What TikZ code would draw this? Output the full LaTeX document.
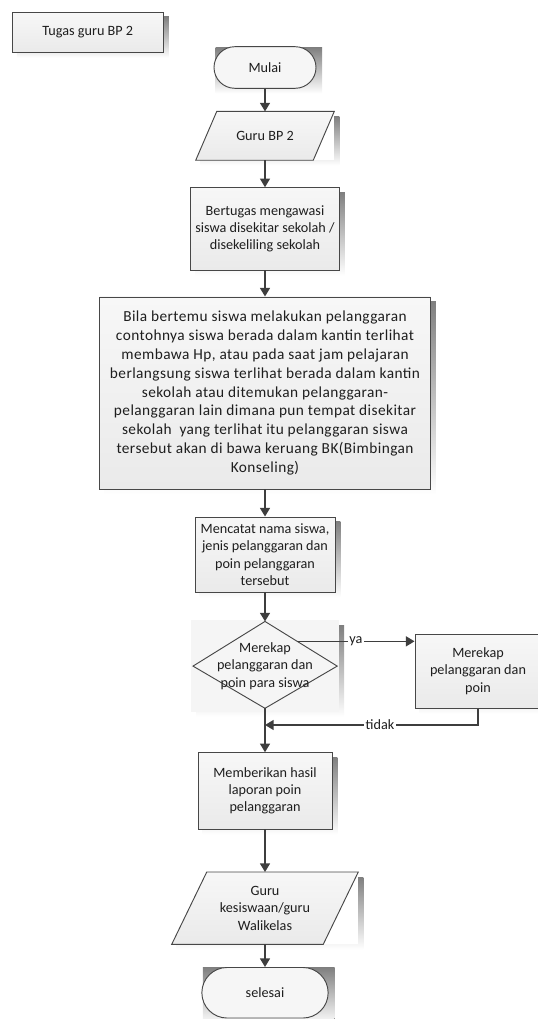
\documentclass[tikz,border=0pt]{standalone}
\usepackage{fontspec}
\setmainfont{Carlito}
\usetikzlibrary{arrows.meta,calc}
\pgfdeclarelayer{shadowlayer}
\pgfdeclarelayer{shapelayer}
\pgfsetlayers{shadowlayer,shapelayer,main}

\definecolor{edge}{HTML}{474747}
\definecolor{wire}{HTML}{3E3E3E}
\definecolor{shade}{HTML}{C9C9C9}
\definecolor{boxtop}{HTML}{F7F7F7}
\definecolor{boxbot}{HTML}{EAEAEA}
\definecolor{termfill}{HTML}{F6F6F6}
\definecolor{decfill}{HTML}{F5F5F5}
\definecolor{ink}{HTML}{1E1E1E}

\begin{document}
\begin{tikzpicture}[x=0.75pt,y=-0.75pt,
  base/.style={font=\fontsize{10.65pt}{13pt}\selectfont, text=ink, align=center, inner sep=0pt},
  procbox/.style={base, rectangle, draw=edge, line width=0.7pt, top color=boxtop, bottom color=boxbot},
  termbox/.style={base, rectangle, draw=edge, line width=0.7pt, fill=termfill},
  holder/.style={base, rectangle},
  outline/.style={draw=edge, line width=0.7pt},
  flow/.style={draw=wire, line width=1.1pt, -{Triangle[width=7.5pt,length=6.5pt]}},
  tag/.style={base, fill=white, inner sep=1pt},
]
\useasboundingbox (0,0) rectangle (537,1019);

% ---- nodes ----
\node[procbox, minimum width=113.25pt, minimum height=30pt] (title) at (87.8,32.3) {Tugas guru BP 2};
\node[termbox, rounded corners=15.6pt, minimum width=76.5pt, minimum height=31.2pt] (start) at (265,67.5) {Mulai};
\node[holder, minimum width=103.5pt, minimum height=36.2pt] (in1) at (265,135.85) {Guru BP 2};
\node[procbox, minimum width=111.75pt, minimum height=61.7pt] (watch) at (265,228.85)
  {Bertugas mengawasi\\siswa disekitar sekolah /\\disekeliling sekolah};
\node[procbox, minimum width=248.25pt, minimum height=144pt,
      font=\fontsize{11.5pt}{14.1pt}\selectfont\addfontfeature{LetterSpace=2.8}] (rule) at (265,393)
  {Bila bertemu siswa melakukan pelanggaran\\
   contohnya siswa berada dalam kantin terlihat\\
   membawa Hp, atau pada saat jam pelajaran\\
   berlangsung siswa terlihat berada dalam kantin\\
   sekolah atau ditemukan pelanggaran-\\
   pelanggaran lain dimana pun tempat disekitar\\
   sekolah\ \ yang terlihat itu pelanggaran siswa\\
   tersebut akan di bawa keruang BK(Bimbingan\\
   Konseling)};
\node[procbox, minimum width=105pt, minimum height=56.25pt] (note) at (265,554.5)
  {Mencatat nama siswa,\\jenis pelanggaran dan\\poin pelanggaran\\tersebut};
\node[holder, minimum width=110.6pt, minimum height=68.1pt] (dec) at (265,666.1)
  {Merekap\\pelanggaran dan\\poin para siswa};
\node[procbox, minimum width=94.5pt, minimum height=55.7pt] (tally) at (478,671.15)
  {Merekap\\pelanggaran dan\\poin};
\node[procbox, minimum width=100.5pt, minimum height=57.2pt] (report) at (265,790.85)
  {Memberikan hasil\\laporan poin\\pelanggaran};
\node[holder, minimum width=139.5pt, minimum height=53.8pt] (out) at (265,908.15)
  {Guru\\kesiswaan/guru\\Walikelas};
\node[termbox, rounded corners=18.9pt, minimum width=94.7pt, minimum height=37.9pt] (stop) at (265,992.75) {selesai};

% diamond corners inside its frame
\coordinate (dtop) at ([yshift=-0.75pt]dec.north);
\coordinate (dbot) at ([yshift=2.6pt]dec.south);
\coordinate (dleft) at ([xshift=1.5pt]dec.west);
\coordinate (dright) at ([xshift=-1.35pt]dec.east);

% ---- shadows ----
\begin{pgfonlayer}{shadowlayer}
  \foreach \n in {title,watch,rule,note,dec,tally,report,in1,out}
    \fill[shade] ([shift={(5,5)}]\n.north west) rectangle ([shift={(5,5)}]\n.south east);
  \fill[shade] ([shift={(2,1.3)}]start.north west) rectangle ([shift={(5.7,4.7)}]start.south east);
  \fill[shade] ([shift={(1.5,0.5)}]stop.north west) rectangle ([shift={(6,6)}]stop.south east);
\end{pgfonlayer}

% ---- input/output and decision outlines ----
\begin{pgfonlayer}{shapelayer}
  \fill[white] (in1.north west) rectangle (in1.south east);
  \path[outline, top color=boxtop, bottom color=boxbot]
    ([xshift=15.75pt]in1.north west) -- (in1.north east)
    -- ([xshift=-15.75pt]in1.south east) -- (in1.south west) -- cycle;
  \fill[white] (out.north west) rectangle (out.south east);
  \path[outline, top color=boxtop, bottom color=boxbot]
    ([xshift=26.25pt]out.north west) -- (out.north east)
    -- ([xshift=-26.25pt]out.south east) -- (out.south west) -- cycle;
  \fill[decfill] (dec.north west) rectangle (dec.south east);
  \draw[outline] (dtop) -- (dright) -- (dbot) -- (dleft) -- cycle;
\end{pgfonlayer}

% ---- connectors ----
\draw[flow] (start.south) -- (in1.north);
\draw[flow] (in1.south) -- (watch.north);
\draw[flow] (watch.south) -- (rule.north);
\draw[flow] (rule.south) -- (note.north);
\draw[flow] (note.south) -- (dtop);
\coordinate (yes) at ($(dtop)!0.4457!(dright)$);
\draw[flow] (yes) -- node[tag]{ya} (yes -| tally.west);
\coordinate (merge) at (265,725);
\draw[flow] (tally.south) |- node[tag, pos=0.73]{tidak} (merge);
\draw[flow] (dbot) -- (report.north);
\draw[flow] (report.south) -- (out.north);
\draw[flow] (out.south) -- (stop.north);
\end{tikzpicture}
\end{document}
